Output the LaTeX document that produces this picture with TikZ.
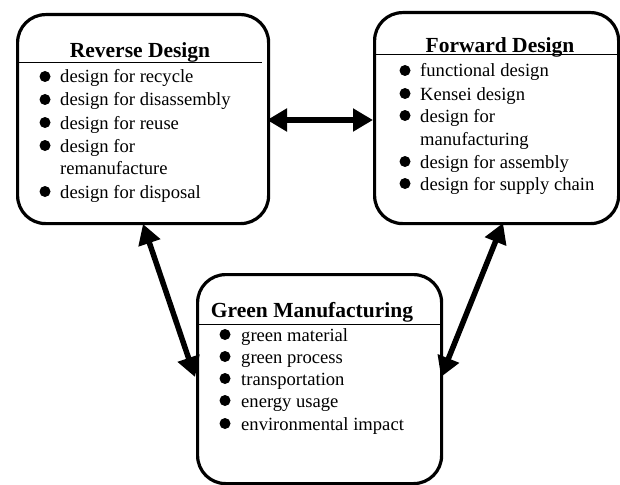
\documentclass[tikz,border=0pt]{standalone}
\usepackage{fontspec}
\setmainfont{Liberation Serif}
\usetikzlibrary{arrows.meta}
\tikzset{
  box/.style={draw, line width=3.2pt, rounded corners=28pt, anchor=north west, inner sep=0},
  ttl/.style={font=\fontsize{21.5}{24}\selectfont\bfseries, anchor=base, inner sep=0},
  itm/.style={font=\fontsize{18.6}{22}\selectfont, anchor=base west, inner sep=0},
  dot/.style={circle, fill=black, minimum size=11pt, inner sep=0},
  sep/.style={line width=1pt},
  link/.style={line width=5.5pt, {Triangle[length=20pt,width=22pt]}-{Triangle[length=20pt,width=22pt]}}
}
\begin{document}
\begin{tikzpicture}[x=1pt,y=-1pt]
\useasboundingbox (0,0) rectangle (620,484);
% boxes
\node[box, minimum width=251pt, minimum height=209pt] (rev) at (16,13) {};
\node[box, minimum width=244pt, minimum height=211pt] (fwd) at (373,11) {};
\node[box, minimum width=244pt, minimum height=209pt] (grn) at (196,273) {};
% separators
\coordinate (rs1) at (16,63); \coordinate (rs2) at (262,63);
\coordinate (fs1) at (373,55); \coordinate (fs2) at (617,55);
\coordinate (gs1) at (196,324); \coordinate (gs2) at (440,324);
\draw[sep] (rs1) -- (rs2);
\draw[sep] (fs1) -- (fs2);
\draw[sep] (gs1) -- (gs2);
% titles
\node[ttl] (revt) at (140,58) {Reverse Design};
\node[ttl] (fwdt) at (500,53) {Forward Design};
\node[ttl] (grnt) at (312,317) {Green Manufacturing};
% reverse items
\node[dot] (rb1) at (45,76.5) {};  \node[itm] (r1) at (60,83) {design for recycle};
\node[dot] (rb2) at (45,99.5) {};  \node[itm] (r2) at (60,106) {design for disassembly};
\node[dot] (rb3) at (45,122.5) {}; \node[itm] (r3) at (60,129) {design for reuse};
\node[dot] (rb4) at (45,145.5) {}; \node[itm] (r4) at (60,152) {design for};
\node[itm] (r5) at (60,174) {remanufacture};
\node[dot] (rb6) at (45,191.5) {}; \node[itm] (r6) at (60,198) {design for disposal};
% forward items
\node[dot] (fb1) at (405,70.5) {};  \node[itm] (f1) at (420,77) {functional design};
\node[dot] (fb2) at (405,93.5) {};  \node[itm] (f2) at (420,100) {Kensei design};
\node[dot] (fb3) at (405,115.5) {}; \node[itm] (f3) at (420,122) {design for};
\node[itm] (f4) at (420,145) {manufacturing};
\node[dot] (fb5) at (405,161.5) {}; \node[itm] (f5) at (420,168) {design for assembly};
\node[dot] (fb6) at (405,183.5) {}; \node[itm] (f6) at (420,190) {design for supply chain};
% green items
\node[dot] (gb1) at (225,334.5) {}; \node[itm] (g1) at (241,341) {green material};
\node[dot] (gb2) at (225,356.5) {}; \node[itm] (g2) at (241,363) {green process};
\node[dot] (gb3) at (225,378.5) {}; \node[itm] (g3) at (241,385) {transportation};
\node[dot] (gb4) at (225,400.5) {}; \node[itm] (g4) at (241,407) {energy usage};
\node[dot] (gb5) at (225,423.5) {}; \node[itm] (g5) at (241,430) {environmental impact};
% arrows
\coordinate (h1) at (267,120); \coordinate (h2) at (373,120);
\coordinate (l1) at (143,224); \coordinate (l2) at (195,377);
\coordinate (q1) at (503,223); \coordinate (q2) at (441,377);
\draw[link] (h1) -- (h2);
\draw[link] (l1) -- (l2);
\draw[link] (q1) -- (q2);
\end{tikzpicture}
\end{document}
